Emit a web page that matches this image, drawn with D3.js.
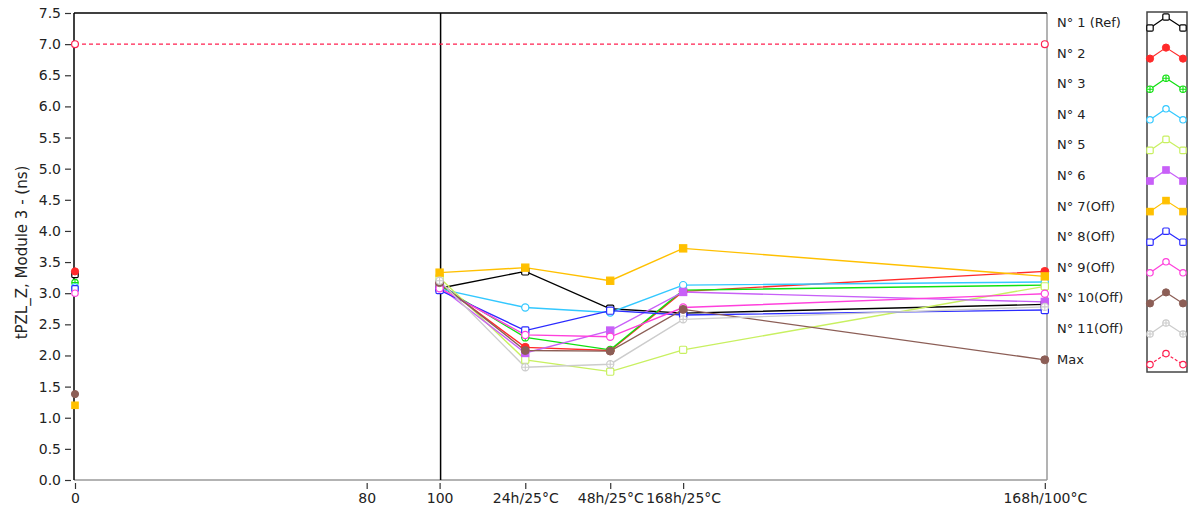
<!DOCTYPE html>
<html><head><meta charset="utf-8">
<script src="https://cdn.jsdelivr.net/npm/d3@7"></script>
<style>
body{margin:0;background:#fff}
svg{display:block}
text{font-family:"DejaVu Sans",sans-serif;fill:#222}
</style>
</head><body>
<svg id="chart" width="1189" height="515"></svg>
<script>
// ---- data ----
const xTickValues = [0, 80, 100, 123.5, 146.8, 166.8, 266];
const xTickLabels = ["0", "80", "100", "24h/25°C", "48h/25°C", "168h/25°C", "168h/100°C"];
const yTickValues = [0, 0.5, 1, 1.5, 2, 2.5, 3, 3.5, 4, 4.5, 5, 5.5, 6, 6.5, 7, 7.5];
const xSteps = [100, 123.5, 146.8, 166.8, 266];   // positions of the connected points
const xStart = 0;                                // isolated start points
const cursorX = 100;

const seriesNames  = ["N° 1 (Ref)", "N° 2", "N° 3", "N° 4", "N° 5", "N° 6", "N° 7(Off)", "N° 8(Off)", "N° 9(Off)", "N° 10(Off)", "N° 11(Off)"];
const startValues  = [3.30, 3.35, 3.17, 3.10, null, null, 1.20, 3.07, 3.00, 1.38, null];
const n1  = [3.08, 3.35, 2.75, 2.68, 2.82];
const n2  = [3.15, 2.13, 2.08, 3.03, 3.35];
const n3  = [3.12, 2.29, 2.09, 3.05, 3.13];
const n4  = [3.07, 2.77, 2.69, 3.13, 3.18];
const n5  = [3.25, 1.93, 1.74, 2.09, 3.11];
const n6  = [3.10, 2.04, 2.40, 3.02, 2.86];
const n7  = [3.33, 3.41, 3.20, 3.72, 3.27];
const n8  = [3.05, 2.40, 2.72, 2.65, 2.73];
const n9  = [3.08, 2.33, 2.30, 2.77, 2.99];
const n10 = [3.17, 2.08, 2.07, 2.74, 1.93];
const n11 = [3.20, 1.81, 1.86, 2.58, 2.78];
const seriesValues = [n1, n2, n3, n4, n5, n6, n7, n8, n9, n10, n11];
const maxName = "Max";
const maxX = [0, 266];
const maxValues = [7.0, 7.0];

// ---- styles ----
const seriesColors  = ["#000000", "#ff2a2a", "#10e010", "#33c8ff", "#c8f060", "#c860f8", "#ffc000", "#2a2aff", "#ff40dc", "#8c5e56", "#cccccc"];
const seriesMarkers = ["osq", "fcirc", "ocross", "ocirc", "osq", "fsq", "fsq", "osq", "ocirc", "fcirc", "ocross"];
const maxColor = "#ff2050";

const svg = d3.select("#chart");
const plot = {left: 74, right: 1047, top: 13, bottom: 480};

const x = d3.scaleLinear().domain([0, 266.6]).range([75, 1047]);
const y = d3.scaleLinear().domain([0, 7.5]).range([plot.bottom, plot.top]);

// frame
svg.append("line").attr("x1", plot.left).attr("x2", plot.right).attr("y1", plot.bottom).attr("y2", plot.bottom).attr("stroke", "#9a9a9a").attr("stroke-width", 1.5);
svg.append("line").attr("x1", plot.right).attr("x2", plot.right).attr("y1", plot.top).attr("y2", plot.bottom).attr("stroke", "#9a9a9a").attr("stroke-width", 1.5);
svg.append("line").attr("x1", plot.left).attr("x2", plot.right).attr("y1", plot.top).attr("y2", plot.top).attr("stroke", "#000").attr("stroke-width", 1.5);
svg.append("line").attr("x1", plot.left).attr("x2", plot.left).attr("y1", plot.top).attr("y2", plot.bottom).attr("stroke", "#000").attr("stroke-width", 1.5);

// y axis
const yAxis = d3.axisLeft(y).tickValues(yTickValues).tickFormat(d3.format(".1f")).tickSize(6).tickPadding(4);
const gy = svg.append("g").attr("transform", `translate(${plot.left - 3},0)`).call(yAxis);
gy.select(".domain").remove();
gy.selectAll(".tick line").attr("stroke", "#333").attr("stroke-width", 1.2);
gy.selectAll(".tick text").attr("font-size", 14).attr("fill", "#222").style("font-family", "DejaVu Sans");

// x axis
const xAxis = d3.axisBottom(x).tickValues(xTickValues).tickFormat((d, i) => xTickLabels[i]).tickSize(6).tickPadding(4);
const gx = svg.append("g").attr("transform", `translate(0,${plot.bottom + 3})`).call(xAxis);
gx.select(".domain").remove();
gx.selectAll(".tick line").attr("stroke", "#333").attr("stroke-width", 1.2);
gx.selectAll(".tick text").attr("font-size", 14).attr("fill", "#222").style("font-family", "DejaVu Sans");

// y title
svg.append("text").attr("transform", `translate(27,${(plot.top + plot.bottom) / 2 + 6}) rotate(-90)`)
  .attr("text-anchor", "middle").attr("font-size", 15).text("tPZL_Z, Module 3 - (ns)");

// cursor line
svg.append("line").attr("x1", x(cursorX) + 1).attr("x2", x(cursorX) + 1).attr("y1", plot.top).attr("y2", plot.bottom)
  .attr("stroke", "#000").attr("stroke-width", 1.5);

// marker drawing
function drawMarker(g, type, color, cx, cy, s) {
  s = s || 3.6;
  if (type === "osq" || type === "fsq") {
    g.append("rect").attr("x", cx - s).attr("y", cy - s).attr("width", 2 * s).attr("height", 2 * s)
      .attr("rx", type === "osq" ? 1.2 : 0)
      .attr("fill", type === "fsq" ? color : "#fff").attr("stroke", color).attr("stroke-width", 1.2);
  } else if (type === "fcirc") {
    g.append("circle").attr("cx", cx).attr("cy", cy).attr("r", s + 0.4).attr("fill", color).attr("stroke", color);
  } else if (type === "ocirc") {
    g.append("circle").attr("cx", cx).attr("cy", cy).attr("r", s).attr("fill", "#fff").attr("stroke", color).attr("stroke-width", 1.2);
  } else if (type === "ocross") {
    g.append("circle").attr("cx", cx).attr("cy", cy).attr("r", s).attr("fill", "#fff").attr("stroke", color).attr("stroke-width", 1.2);
    g.append("path").attr("d", `M${cx - s},${cy}H${cx + s}M${cx},${cy - s}V${cy + s}`).attr("stroke", color).attr("stroke-width", 1.1);
  }
}

const line = d3.line().x(d => x(d[0])).y(d => y(d[1]));

// series
const gs = svg.append("g");
seriesValues.forEach((vals, i) => {
  const pts = xSteps.map((xv, j) => [xv, vals[j]]);
  gs.append("path").attr("d", line(pts)).attr("fill", "none").attr("stroke", seriesColors[i]).attr("stroke-width", 1.4);
});
seriesValues.forEach((vals, i) => {
  const g = gs.append("g");
  xSteps.forEach((xv, j) => drawMarker(g, seriesMarkers[i], seriesColors[i], x(xv), y(vals[j])));
  if (startValues[i] !== null) drawMarker(g, seriesMarkers[i], seriesColors[i], x(xStart), y(startValues[i]), 3.2);
});

// max line
const maxPts = maxX.map((xv, j) => [xv, maxValues[j]]);
svg.append("path").attr("d", line(maxPts)).attr("fill", "none").attr("stroke", maxColor).attr("stroke-width", 1.3).attr("stroke-dasharray", "4,3");
maxPts.forEach(p => drawMarker(svg, "ocirc", maxColor, x(p[0]), y(p[1]), 3.4));

// legend
const legTop = 22, legStep = 30.6;
const legNames = seriesNames.concat([maxName]);
const legColors = seriesColors.concat([maxColor]);
const legMarkers = seriesMarkers.concat(["ocirc"]);
svg.append("rect").attr("x", 1147).attr("y", 12).attr("width", 40).attr("height", 360).attr("fill", "#fff").attr("stroke", "#444").attr("stroke-width", 1.5);
legNames.forEach((name, i) => {
  const cy = legTop + i * legStep;
  svg.append("text").attr("x", 1057).attr("y", cy + 5).attr("font-size", 13).text(name);
  const p = [[1150, cy + 6], [1166, cy - 5], [1183, cy + 6]];
  svg.append("path").attr("d", d3.line()(p)).attr("fill", "none").attr("stroke", legColors[i]).attr("stroke-width", 1.2)
    .attr("stroke-dasharray", i === legNames.length - 1 ? "3,2" : null);
  p.forEach(q => drawMarker(svg, legMarkers[i], legColors[i], q[0], q[1], 3.2));
});
</script>
</body></html>
